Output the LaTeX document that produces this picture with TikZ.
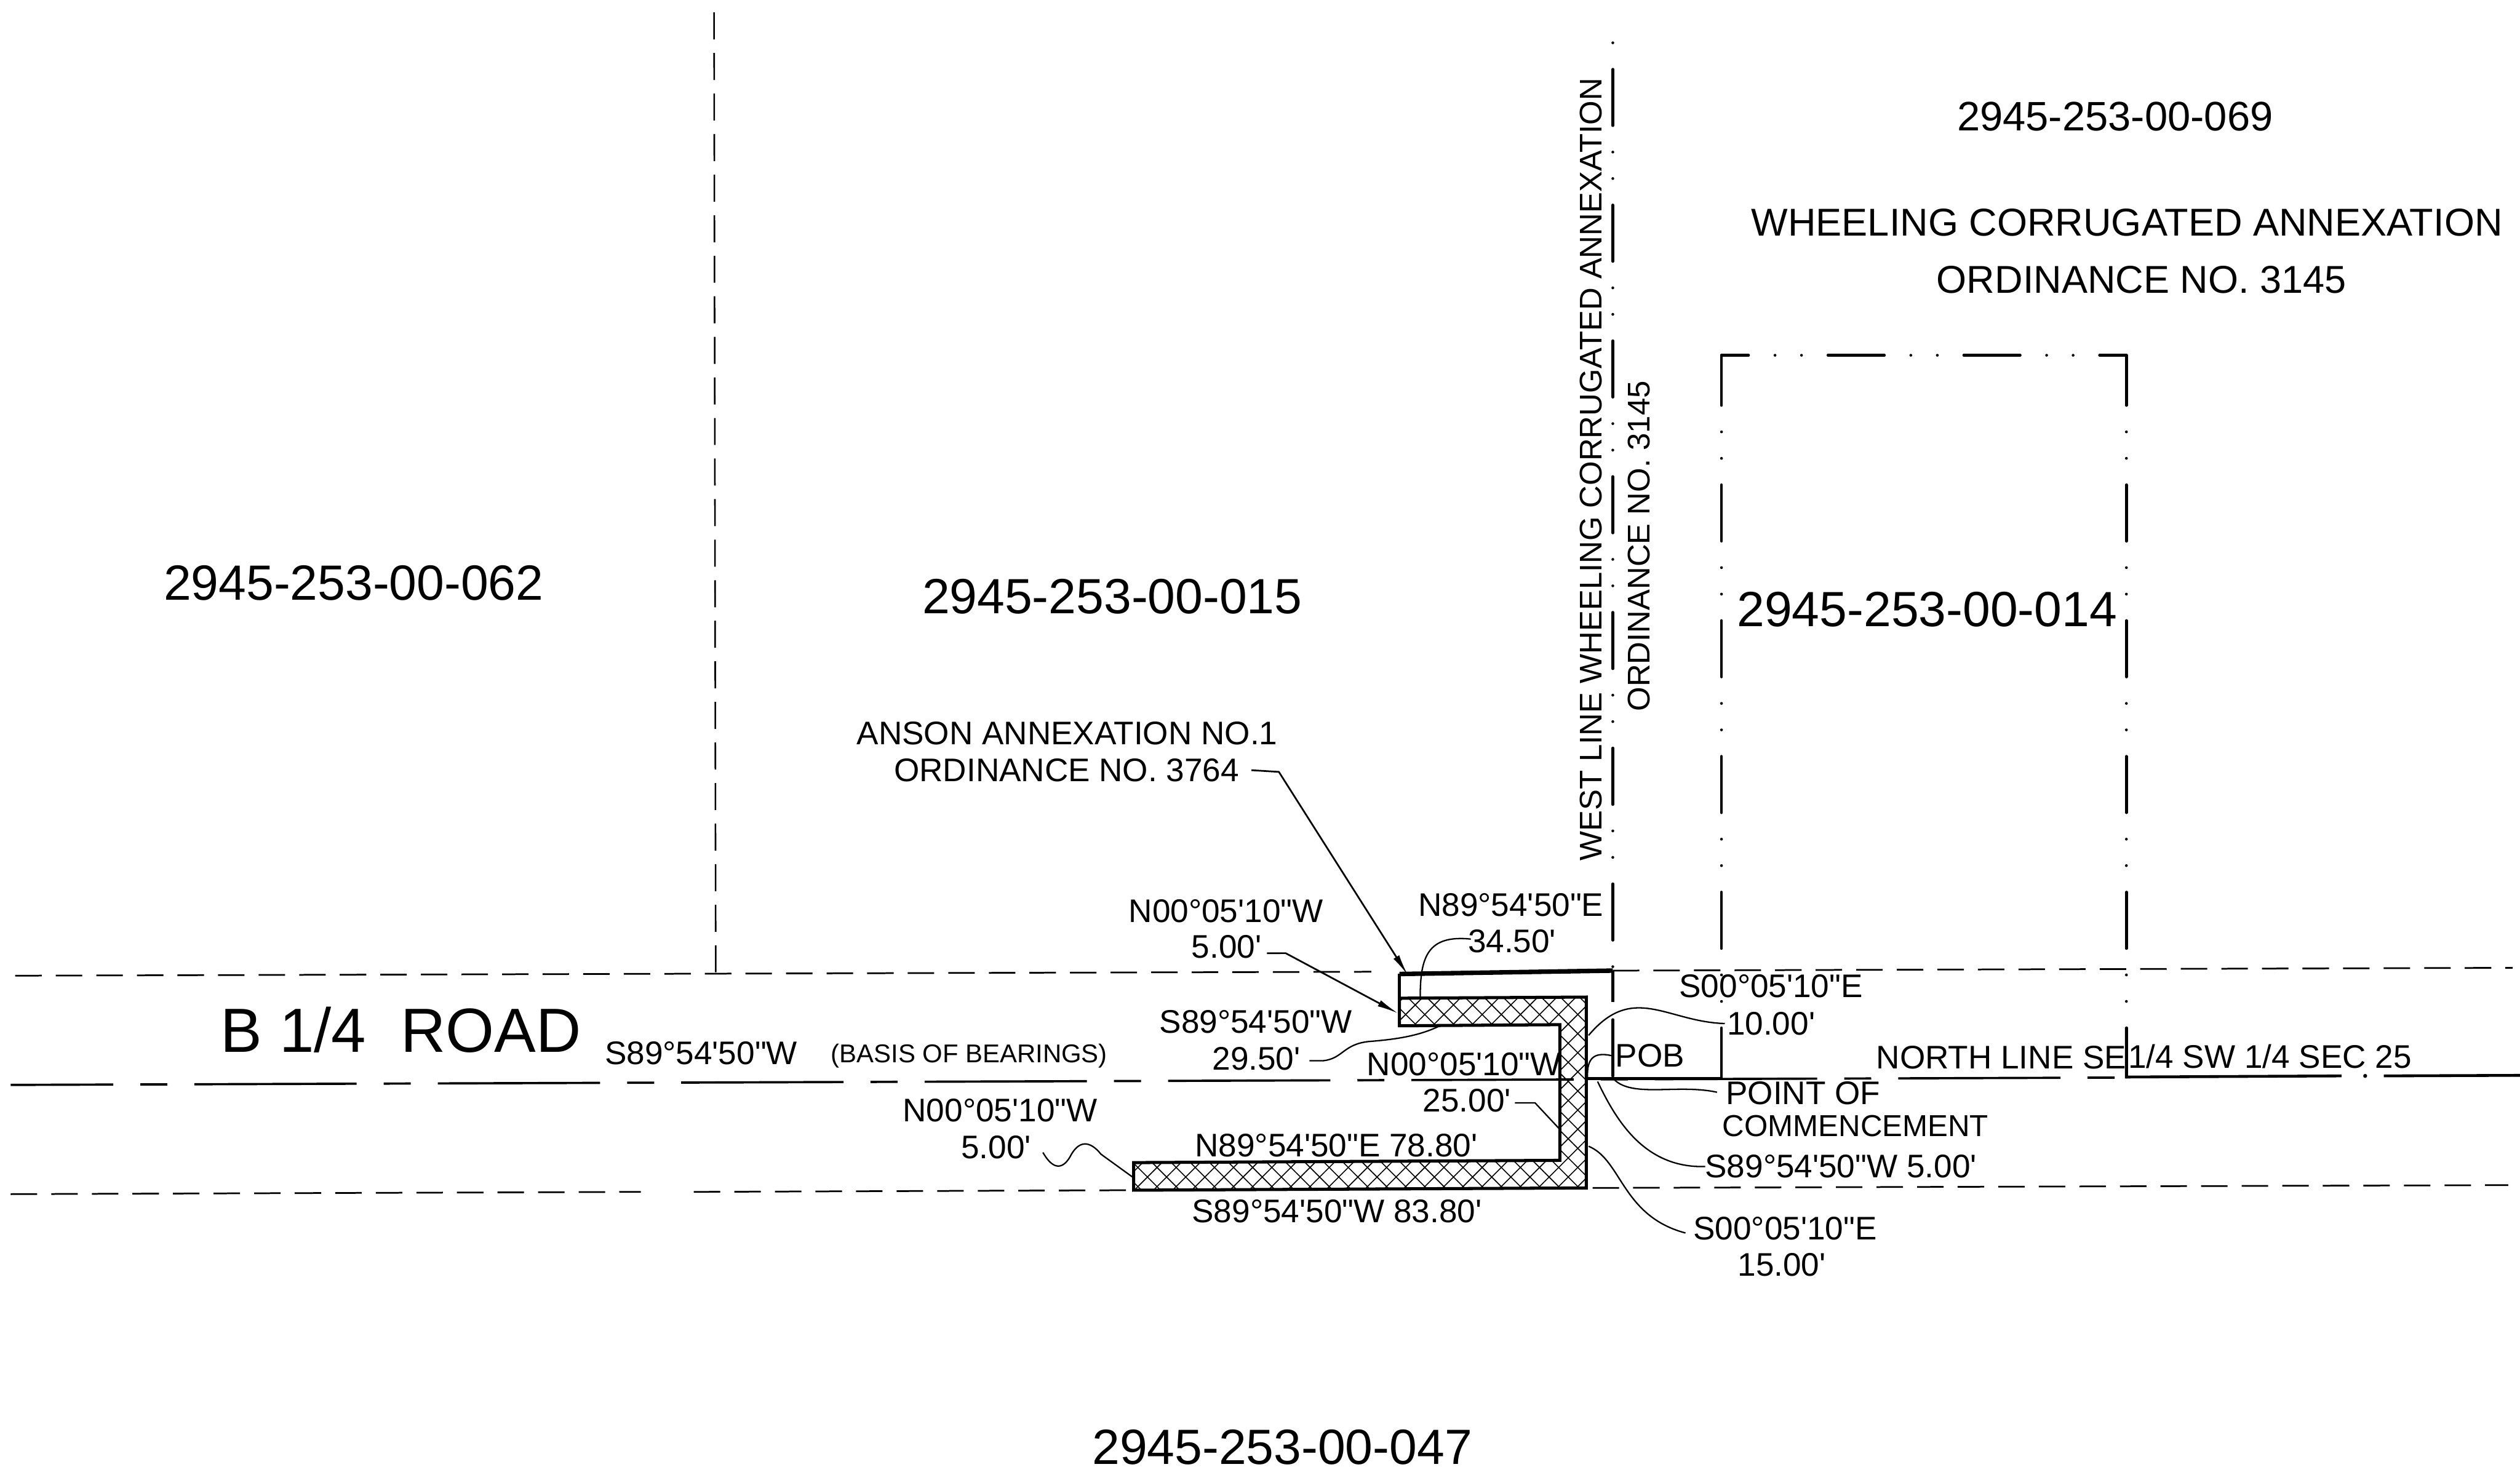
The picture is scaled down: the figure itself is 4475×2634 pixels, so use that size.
\documentclass[tikz,border=0pt]{standalone}
\usepackage{fontspec}
\usepackage{tikz}
\usetikzlibrary{arrows.meta}
\usetikzlibrary{patterns.meta}
\newfontfamily\dwgfont{Liberation Sans}

\begin{document}
\begin{tikzpicture}[x=0.01cm,y=-0.01cm,
    every node/.style={inner sep=0pt,outer sep=0pt,font=\dwgfont},
    parcel/.style={font=\dwgfont\fontsize{25}{30}\selectfont},
    title/.style={font=\dwgfont\fontsize{19.6}{24}\selectfont},
    bearing/.style={font=\dwgfont\fontsize{16.5}{20}\selectfont},
    vert/.style={font=\dwgfont\fontsize{15.8}{19}\selectfont,rotate=90},
    leader/.style={line width=0.025cm},
    arrowline/.style={line width=0.03cm,-{Latex[length=0.38cm,width=0.12cm]}},
    road/.style={line width=0.03cm,dash pattern=on 0.47cm off 0.25cm},
    section/.style={line width=0.04cm,dash pattern=on 2.88cm off 0.48cm on 0.48cm off 0.48cm},
    lotline/.style={line width=0.028cm,dash pattern=on 0.48cm off 0.24cm},
    property/.style={line width=0.05cm,line cap=round,dash pattern=on 1cm off 0.47cm on 0pt off 0.47cm on 0pt off 0.47cm},
    annex/.style={line width=0.055cm,line join=miter}]
    \useasboundingbox (0,0) rectangle (4475,2634);

    % parcel numbers and titles
    \node (lotA)[parcel] at (628,1036) {2945-253-00-062};
    \node (lotB)[parcel] at (1975,1059) {2945-253-00-015};
    \node (lotC)[parcel] at (3422,1083) {2945-253-00-014};
    \node (lotD)[parcel] at (2277,2571) {2945-253-00-047};
    \node (lotE)[font=\dwgfont\fontsize{20.8}{25}\selectfont] at (3756,207) {2945-253-00-069};
    \node (wheeling)[title] at (3777,395) {WHEELING CORRUGATED ANNEXATION};
    \node (wheelord)[title] at (3803,497) {ORDINANCE NO. 3145};
    \node (roadname)[font=\dwgfont\fontsize{31.5}{38}\selectfont] at (712,1829) {B 1/4\ \ ROAD};
    \node (basis)[bearing] at (1245,1871) {S89°54'50"W};
    \node (basisnote)[font=\dwgfont\fontsize{13}{16}\selectfont] at (1721,1875) {(BASIS OF BEARINGS)};
    \node (westline)[vert] at (2825,834) {WEST LINE WHEELING CORRUGATED ANNEXATION};
    \node (westord)[vert] at (2910,970) {ORDINANCE NO. 3145};
    \node (northA)[bearing] at (3554,1878) {NORTH LINE SE};
    \node (northB)[bearing] at (4031,1876) {1/4 SW 1/4 SEC 25};

    % labels round the annexation
    \node (ansonA)[bearing] at (1895,1302) {ANSON ANNEXATION NO.1};
    \node (ansonB)[bearing] at (1894,1368) {ORDINANCE NO. 3764};
    \node (brgA)[bearing] at (2177,1618) {N00°05'10"W};
    \node (lenA)[bearing] at (2178,1682) {5.00'};
    \node (brgB)[bearing] at (2683,1607) {N89°54'50"E};
    \node (lenB)[bearing] at (2685,1672) {34.50'};
    \node (brgC)[bearing] at (2230,1815) {S89°54'50"W};
    \node (lenC)[bearing] at (2231,1880) {29.50'};
    \node (brgD)[bearing] at (2600,1890) {N00°05'10"W};
    \node (lenD)[bearing] at (2605,1955) {25.00'};
    \node (brgE)[bearing] at (2373,2034) {N89°54'50"E 78.80'};
    \node (brgF)[bearing] at (2374,2151) {S89°54'50"W 83.80'};
    \node (brgG)[bearing] at (1776,1972) {N00°05'10"W};
    \node (lenG)[bearing] at (1769,2038) {5.00'};
    \node (brgH)[bearing] at (3145,1752) {S00°05'10"E};
    \node (lenH)[bearing] at (3145,1818) {10.00'};
    \node (pob)[bearing] at (2930,1875) {POB};
    \node (pocA)[bearing] at (3202,1942) {POINT OF};
    \node (pocB)[font=\dwgfont\fontsize{15.3}{18}\selectfont] at (3295,2000) {COMMENCEMENT};
    \node (brgI)[bearing] at (3269,2072) {S89°54'50"W 5.00'};
    \node (brgJ)[bearing] at (3170,2182) {S00°05'10"E};
    \node (lenJ)[bearing] at (3164,2247) {15.00'};

    % road and section lines
    \coordinate (topL) at (27,1733);
    \coordinate (topM) at (2435,1726);
    \coordinate (topN) at (2864,1724);
    \coordinate (topR) at (4462,1719);
    \coordinate (midL) at (19,1927);
    \coordinate (midR) at (3760,1914);
    \coordinate (botL) at (19,2121);
    \coordinate (botM) at (1138,2117);
    \coordinate (botN) at (1232,2117);
    \coordinate (botO) at (2013,2114);
    \coordinate (botP) at (2828,2110);
    \coordinate (botR) at (4454,2105);
    \draw[road] (topL) -- (topM);
    \draw[road] (topN) -- (topR);
    \draw[section,dash phase=1.06cm] (midL) -- (midR);
    \draw[road] (botL) -- (botM);
    \draw[road] (botN) -- (botO);
    \draw[road] (botP) -- (botR);

    % lot line and the property lines
    \coordinate (lotT) at (1268,22);
    \coordinate (lotF) at (1271,1730);
    \draw[lotline] (lotT) -- (lotF);
    \coordinate (westT) at (2864,29);
    \coordinate (westF) at (2864,1916);
    \draw[property,dash phase=1.47cm] (westT) -- (westF);
    \coordinate (boxTL) at (3057,631);
    \coordinate (boxTR) at (3776,631);
    \coordinate (boxBL) at (3057,1916);
    \coordinate (boxBR) at (3776,1913);
    \draw[property,dash phase=0.11cm] (boxTL) -- (boxBL);
    \draw[property,dash phase=0.11cm] (boxTR) -- (boxBR);
    \draw[property,dash phase=0.52cm] (boxTL) -- (boxTR);

    % north line east of the box
    \coordinate (northM) at (4158,1911);
    \coordinate (northD) at (4233,1911);
    \coordinate (northE) at (4475,1910);
    \coordinate (boxU) at (3776,1825);
    \draw[line width=0.05cm,line join=miter] (boxU) -- (boxBR) -- (northM);
    \fill (4200,1911) circle (0.035cm);
    \draw[line width=0.05cm] (northD) -- (northE);
    \coordinate (pocP) at (2817,1916);
    \draw[line width=0.05cm] (pocP) -- (boxBL);

    % old line above the annexation
    \coordinate (oldA) at (2485,1773);
    \coordinate (oldB) at (2485,1730);
    \coordinate (oldC) at (2864,1780);
    \draw[line width=0.08cm] (oldB) -- (topN);
    \draw[line width=0.05cm] (oldA) -- (oldB);
    \draw[line width=0.05cm] (topN) -- (oldC);

    % annexation strip
    \coordinate (annA) at (2485,1773);
    \coordinate (annB) at (2817,1771);
    \coordinate (annC) at (2817,2110);
    \coordinate (annD) at (2013,2114);
    \coordinate (annE) at (2013,2065);
    \coordinate (annF) at (2770,2061);
    \coordinate (annG) at (2770,1820);
    \coordinate (annH) at (2485,1822);
    \fill[pattern={Lines[angle=45,distance=0.24cm,line width=0.018cm]}] (annA) -- (annB) -- (annC) -- (annD) -- (annE) -- (annF) -- (annG) -- (annH) -- cycle;
    \fill[pattern={Lines[angle=-45,distance=0.24cm,line width=0.018cm]}] (annA) -- (annB) -- (annC) -- (annD) -- (annE) -- (annF) -- (annG) -- (annH) -- cycle;
    \draw[annex] (annA) -- (annB) -- (annC) -- (annD) -- (annE) -- (annF) -- (annG) -- (annH) -- cycle;

    % leaders
    \coordinate (tipAnson) at (2500,1732);
    \coordinate (tipA) at (2483,1800);
    \draw[arrowline] ([xshift=0.22cm]ansonB.east) -- (2271,1371) -- (tipAnson);
    \draw[arrowline] ([xshift=0.1cm,yshift=-0.11cm]lenA.east) -- (2283,1693) -- (tipA);
    \draw[leader] ([xshift=0.05cm,yshift=0.04cm]lenB.west) .. controls (2535,1660) and (2522,1700) .. (2522,1771);
    \draw[leader] ([xshift=0.16cm,yshift=-0.04cm]lenC.east) -- (2350,1884) .. controls (2385,1880) and (2385,1855) .. (2430,1850) .. controls (2480,1846) and (2520,1840) .. (2557,1822);
    \draw[leader] ([xshift=0.07cm,yshift=-0.04cm]lenD.east) -- (2726,1959) -- (2769,2005);
    \draw[leader] ([xshift=0.21cm,yshift=-0.09cm]lenG.east) .. controls (1868,2075) and (1885,2080) .. (1900,2055) .. controls (1915,2025) and (1935,2025) .. (1955,2050) -- (annE |- 0,2092);
    \draw[leader] ([xshift=-0.04cm]lenH.west) .. controls (2960,1815) and (2900,1745) .. (2821,1839);
    \draw[leader] (pob.west) ++(-0.07cm,0) .. controls (2830,1868) and (2818,1880) .. (2819,1913);
    \draw[leader] ([xshift=-0.16cm,yshift=0.02cm]pocA.west) .. controls (2980,1925) and (2900,1950) .. (2867,1918);
    \draw[leader] (brgI.west) .. controls (2920,2075) and (2870,1990) .. (2837,1921);
    \draw[leader] ([xshift=-0.14cm,yshift=-0.08cm]brgJ.west) .. controls (2880,2160) and (2880,2060) .. (2821,2036);
\end{tikzpicture}
\end{document}
